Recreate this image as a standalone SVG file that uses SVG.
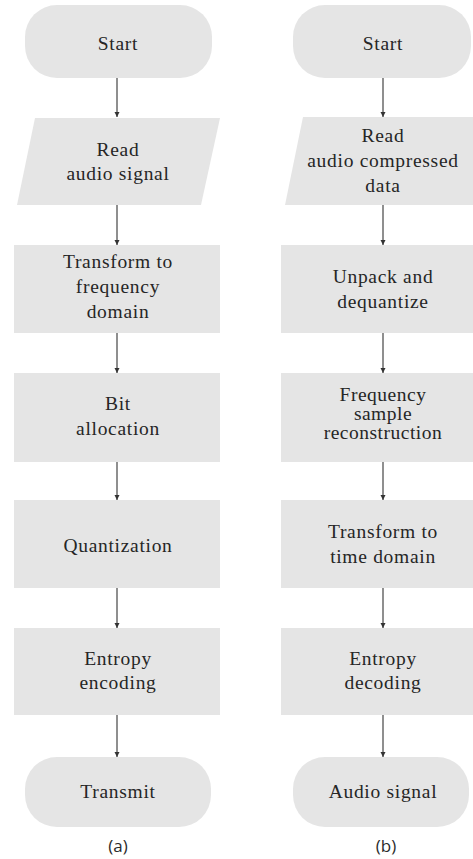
<svg xmlns="http://www.w3.org/2000/svg" width="473" height="859" viewBox="0 0 473 859">
  <style>
    .shape { fill: #e5e5e5; stroke: none; }
    .lbl { font-size: 19.5px; letter-spacing: 0.7px; fill: #262626; text-anchor: middle; }
    .tight { letter-spacing: 0.5px; }
    .cap { font-family: 'Open Sans', 'Liberation Sans', sans-serif; font-size: 17px; fill: #2b2b2b; text-anchor: middle; }
    .flow { stroke: #333333; stroke-width: 1.1; fill: none; marker-end: url(#arrow); }
  </style>
  <defs>
    <marker id="arrow" viewBox="0 0 10 10" refX="10" refY="5" markerWidth="5" markerHeight="6" markerUnits="userSpaceOnUse" orient="auto">
      <path d="M0,0 L10,5 L0,10 Z" fill="#333333"/>
    </marker>
  </defs>
  <rect width="473" height="859" fill="#ffffff"/>

  <!-- (a) encoder flow -->
  <g id="a-start">
    <rect class="shape" x="25" y="5" width="187" height="73" rx="32" ry="32"/>
    <text class="lbl" font-family="Tinos" x="118" y="50">Start</text>
  </g>
  <g id="a-read">
    <polygon class="shape" points="35,118 220,118 201,205 17,205"/>
    <text class="lbl" font-family="Tinos" x="118" y="156">Read</text>
    <text class="lbl" font-family="Tinos" x="118" y="180">audio signal</text>
  </g>
  <g id="a-transform">
    <rect class="shape" x="14" y="245" width="206" height="88"/>
    <text class="lbl" font-family="Tinos" x="118" y="268">Transform to</text>
    <text class="lbl" font-family="Tinos" x="118" y="293">frequency</text>
    <text class="lbl" font-family="Tinos" x="118" y="318">domain</text>
  </g>
  <g id="a-bitalloc">
    <rect class="shape" x="14" y="373" width="206" height="89"/>
    <text class="lbl" font-family="Tinos" x="118" y="410">Bit</text>
    <text class="lbl" font-family="Tinos" x="118" y="435">allocation</text>
  </g>
  <g id="a-quant">
    <rect class="shape" x="14" y="500" width="206" height="88"/>
    <text class="lbl" font-family="Tinos" x="118" y="552">Quantization</text>
  </g>
  <g id="a-entropy">
    <rect class="shape" x="14" y="628" width="206" height="87"/>
    <text class="lbl" font-family="Tinos" x="118" y="665">Entropy</text>
    <text class="lbl" font-family="Tinos" x="118" y="689">encoding</text>
  </g>
  <g id="a-transmit">
    <rect class="shape" x="25" y="757" width="186" height="70" rx="32" ry="32"/>
    <text class="lbl" font-family="Tinos" x="118" y="798">Transmit</text>
  </g>
  <text class="cap" x="118" y="852">(a)</text>

  <!-- (b) decoder flow -->
  <g id="b-start">
    <rect class="shape" x="293" y="5" width="178" height="73" rx="32" ry="32"/>
    <text class="lbl" font-family="Tinos" x="383" y="50">Start</text>
  </g>
  <g id="b-read">
    <polygon class="shape" points="303,117 495,117 477,205 285,205"/>
    <text class="lbl" font-family="Tinos" x="383" y="142">Read</text>
    <text class="lbl" font-family="Tinos" x="383" y="167">audio compressed</text>
    <text class="lbl" font-family="Tinos" x="383" y="192">data</text>
  </g>
  <g id="b-unpack">
    <rect class="shape" x="281" y="245" width="200" height="88"/>
    <text class="lbl" font-family="Tinos" x="383" y="283">Unpack and</text>
    <text class="lbl" font-family="Tinos" x="383" y="308">dequantize</text>
  </g>
  <g id="b-freq">
    <rect class="shape" x="281" y="373" width="200" height="89"/>
    <text class="lbl tight" font-family="Tinos" x="383" y="401">Frequency</text>
    <text class="lbl tight" font-family="Tinos" x="383" y="420">sample</text>
    <text class="lbl tight" font-family="Tinos" x="383" y="439">reconstruction</text>
  </g>
  <g id="b-time">
    <rect class="shape" x="281" y="500" width="200" height="88"/>
    <text class="lbl" font-family="Tinos" x="383" y="538">Transform to</text>
    <text class="lbl" font-family="Tinos" x="383" y="563">time domain</text>
  </g>
  <g id="b-entropy">
    <rect class="shape" x="281" y="628" width="200" height="87"/>
    <text class="lbl" font-family="Tinos" x="383" y="665">Entropy</text>
    <text class="lbl" font-family="Tinos" x="383" y="689">decoding</text>
  </g>
  <g id="b-audio">
    <rect class="shape" x="293" y="757" width="176" height="70" rx="32" ry="32"/>
    <text class="lbl" font-family="Tinos" x="383" y="798">Audio signal</text>
  </g>
  <text class="cap" x="386" y="852">(b)</text>

  <!-- connectors -->
  <g id="connectors">
    <line class="flow" x1="117" y1="78" x2="117" y2="117"/>
    <line class="flow" x1="117" y1="205" x2="117" y2="245"/>
    <line class="flow" x1="117" y1="333" x2="117" y2="373"/>
    <line class="flow" x1="117" y1="462" x2="117" y2="500"/>
    <line class="flow" x1="117" y1="588" x2="117" y2="628"/>
    <line class="flow" x1="117" y1="715" x2="117" y2="757"/>

    <line class="flow" x1="383" y1="78" x2="383" y2="117"/>
    <line class="flow" x1="383" y1="205" x2="383" y2="245"/>
    <line class="flow" x1="383" y1="333" x2="383" y2="373"/>
    <line class="flow" x1="383" y1="462" x2="383" y2="500"/>
    <line class="flow" x1="383" y1="588" x2="383" y2="628"/>
    <line class="flow" x1="383" y1="715" x2="383" y2="757"/>
  </g>
</svg>
